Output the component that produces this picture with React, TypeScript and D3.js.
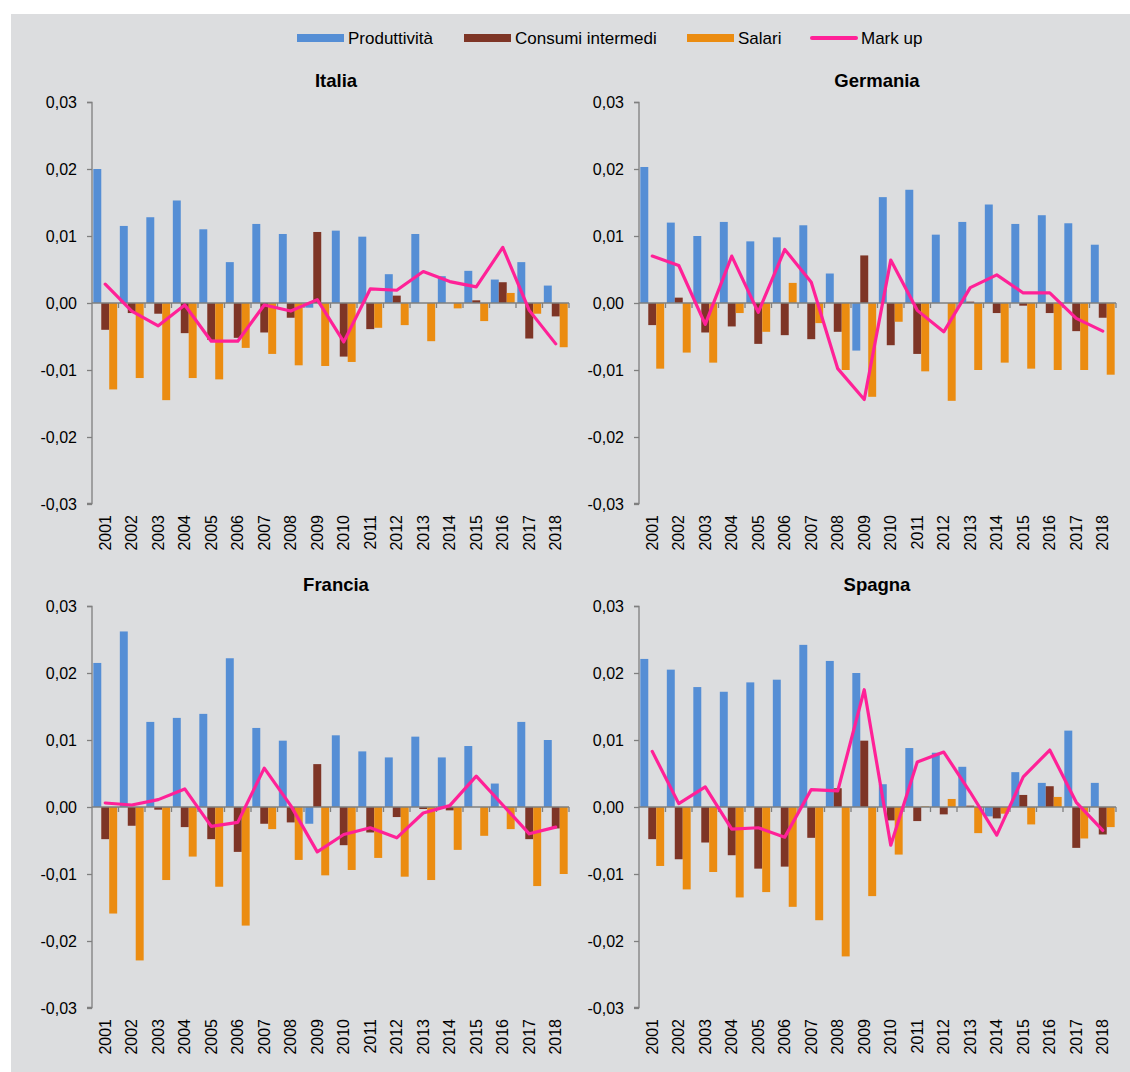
import { useEffect, useRef } from "react";
import * as d3 from "d3";

const years = [
  "2001", "2002", "2003", "2004", "2005", "2006", "2007", "2008", "2009",
  "2010", "2011", "2012", "2013", "2014", "2015", "2016", "2017", "2018",
];
const seriesNames = ["Produttività", "Consumi intermedi", "Salari", "Mark up"];
const seriesColors = ["#558ED5", "#7E3526", "#EB8C11", "#FF2197"];
const yTicks = [-0.03, -0.02, -0.01, 0, 0.01, 0.02, 0.03];

// Italia
const itaProd = [0.0200, 0.0115, 0.0128, 0.0153, 0.0110, 0.0061, 0.0118, 0.0103, -0.0007, 0.0108, 0.0099, 0.0043, 0.0103, 0.0040, 0.0048, 0.0035, 0.0061, 0.0026];
const itaCons = [-0.0040, -0.0015, -0.0016, -0.0045, -0.0055, -0.0052, -0.0044, -0.0022, 0.0106, -0.0080, -0.0039, 0.0011, 0.0000, 0.0000, 0.0004, 0.0031, -0.0053, -0.0020];
const itaSal = [-0.0129, -0.0112, -0.0145, -0.0112, -0.0114, -0.0067, -0.0076, -0.0093, -0.0094, -0.0088, -0.0037, -0.0033, -0.0057, -0.0008, -0.0027, 0.0015, -0.0016, -0.0066];
const itaMark = [0.0028, -0.0012, -0.0034, -0.0003, -0.0057, -0.0057, -0.0003, -0.0012, 0.0005, -0.0058, 0.0021, 0.0019, 0.0047, 0.0032, 0.0024, 0.0083, -0.0011, -0.0061];

// Germania
const gerProd = [0.0203, 0.0120, 0.0100, 0.0121, 0.0092, 0.0098, 0.0116, 0.0044, -0.0071, 0.0158, 0.0169, 0.0102, 0.0121, 0.0147, 0.0118, 0.0131, 0.0119, 0.0087];
const gerCons = [-0.0033, 0.0008, -0.0044, -0.0035, -0.0061, -0.0048, -0.0054, -0.0043, 0.0071, -0.0063, -0.0076, 0.0000, 0.0002, -0.0015, -0.0004, -0.0015, -0.0042, -0.0022];
const gerSal = [-0.0098, -0.0074, -0.0089, -0.0015, -0.0043, 0.0030, -0.0030, -0.0100, -0.0140, -0.0028, -0.0102, -0.0146, -0.0100, -0.0089, -0.0098, -0.0100, -0.0100, -0.0107];
const gerMark = [0.0070, 0.0056, -0.0032, 0.0070, -0.0014, 0.0080, 0.0031, -0.0098, -0.0144, 0.0064, -0.0011, -0.0043, 0.0023, 0.0042, 0.0015, 0.0015, -0.0023, -0.0042];

// Francia
const fraProd = [0.0215, 0.0262, 0.0127, 0.0133, 0.0139, 0.0222, 0.0118, 0.0099, -0.0025, 0.0107, 0.0083, 0.0074, 0.0105, 0.0074, 0.0091, 0.0035, 0.0127, 0.0100];
const fraCons = [-0.0048, -0.0028, -0.0004, -0.0030, -0.0048, -0.0067, -0.0025, -0.0023, 0.0064, -0.0057, -0.0038, -0.0015, -0.0003, -0.0005, 0.0000, 0.0000, -0.0048, -0.0032];
const fraSal = [-0.0159, -0.0229, -0.0109, -0.0074, -0.0119, -0.0177, -0.0033, -0.0079, -0.0102, -0.0094, -0.0076, -0.0104, -0.0109, -0.0064, -0.0043, -0.0033, -0.0118, -0.0100];
const fraMark = [0.0006, 0.0003, 0.0011, 0.0027, -0.0029, -0.0023, 0.0058, 0.0002, -0.0067, -0.0041, -0.0031, -0.0046, -0.0009, 0.0002, 0.0046, 0.0003, -0.0040, -0.0030];

// Spagna
const spaProd = [0.0221, 0.0205, 0.0179, 0.0172, 0.0186, 0.0190, 0.0242, 0.0218, 0.0200, 0.0034, 0.0088, 0.0081, 0.0060, -0.0014, 0.0052, 0.0036, 0.0114, 0.0036];
const spaCons = [-0.0048, -0.0078, -0.0053, -0.0072, -0.0092, -0.0089, -0.0046, 0.0028, 0.0099, -0.0020, -0.0021, -0.0011, 0.0002, -0.0017, 0.0018, 0.0031, -0.0061, -0.0041];
const spaSal = [-0.0088, -0.0123, -0.0097, -0.0135, -0.0127, -0.0149, -0.0169, -0.0223, -0.0133, -0.0071, 0.0001, 0.0012, -0.0039, -0.0010, -0.0026, 0.0015, -0.0047, -0.0030];
const spaMark = [0.0083, 0.0005, 0.0030, -0.0033, -0.0031, -0.0045, 0.0026, 0.0024, 0.0175, -0.0057, 0.0067, 0.0082, 0.0022, -0.0042, 0.0045, 0.0085, 0.0007, -0.0035];

const FONT = "'Liberation Sans', Arial, sans-serif";
const AXIS = "#7F7F7F";

const App = () => {
  const ref = useRef(null);

  useEffect(() => {
    d3.select(ref.current).selectAll("*").remove();
    const W = 1130;
    const H = 1072;

    const svg = d3
      .select(ref.current)
      .append("svg")
      .attr("width", W)
      .attr("height", H)
      .style("display", "block")
      .style("font-family", FONT);

    svg
      .append("rect")
      .attr("x", 11)
      .attr("y", 14)
      .attr("width", W - 11)
      .attr("height", H - 14)
      .attr("fill", "#DCDDDF");

    // legend
    const legendX = [297, 464, 687, 810];
    seriesNames.forEach((name, i) => {
      const g = svg.append("g").attr("transform", `translate(${legendX[i]}, 38)`);
      if (i < 3) {
        g.append("rect")
          .attr("x", 0)
          .attr("y", -4)
          .attr("width", 47)
          .attr("height", 8)
          .attr("fill", seriesColors[i]);
      } else {
        g.append("line")
          .attr("x1", 2)
          .attr("x2", 46)
          .attr("stroke", seriesColors[i])
          .attr("stroke-width", 4)
          .attr("stroke-linecap", "round");
      }
      g.append("text")
        .attr("x", 51)
        .attr("dy", "0.35em")
        .attr("font-size", "17px")
        .attr("fill", "#000")
        .text(name);
    });

    const panels = [
      { title: "Italia", x: 92, y: 102, tx: 336, data: [itaProd, itaCons, itaSal, itaMark] },
      { title: "Germania", x: 639, y: 102, tx: 877, data: [gerProd, gerCons, gerSal, gerMark] },
      { title: "Francia", x: 92, y: 606, tx: 336, data: [fraProd, fraCons, fraSal, fraMark] },
      { title: "Spagna", x: 639, y: 606, tx: 877, data: [spaProd, spaCons, spaSal, spaMark] },
    ];
    const pw = 477;
    const ph = 402;

    panels.forEach((p) => {
      const g = svg.append("g").attr("transform", `translate(${p.x}, ${p.y})`);

      const x0 = d3.scaleBand().domain(years).range([0, pw]).paddingInner(0.1).paddingOuter(0.05);
      const x1 = d3.scaleBand().domain(["0", "1", "2"]).range([0, x0.bandwidth()]);
      const y = d3.scaleLinear().domain([-0.03, 0.03]).range([ph, 0]);

      // title
      svg
        .append("text")
        .attr("x", p.tx)
        .attr("y", p.y - 15)
        .attr("text-anchor", "middle")
        .attr("font-size", "18.5px")
        .attr("font-weight", "bold")
        .text(p.title);

      // bars
      [0, 1, 2].forEach((s) => {
        g.append("g")
          .selectAll("rect")
          .data(p.data[s])
          .join("rect")
          .attr("x", (_, i) => (x0(years[i]) ?? 0) + (x1(String(s)) ?? 0))
          .attr("width", x1.bandwidth())
          .attr("y", (d) => Math.min(y(d), y(0)))
          .attr("height", (d) => Math.abs(y(d) - y(0)))
          .attr("fill", seriesColors[s]);
      });

      // y axis
      const yAxis = d3
        .axisLeft(y)
        .tickValues(yTicks)
        .tickSize(5)
        .tickPadding(10)
        .tickFormat((d) => d3.format(".2f")(d as number).replace(".", ",").replace("−", "-"));
      const ya = g.append("g").call(yAxis);
      ya.select(".domain").attr("stroke", AXIS).attr("stroke-width", 1.3).attr("d", `M-5,0.5H0V${ph - 0.5}H-5`);
      ya.selectAll(".tick line").attr("stroke", AXIS).attr("stroke-width", 1.3);
      ya.selectAll(".tick text").attr("font-size", "16px").attr("font-family", FONT).attr("fill", "#000");

      // zero line with category ticks
      g.append("line")
        .attr("x1", 0)
        .attr("x2", pw)
        .attr("y1", y(0))
        .attr("y2", y(0))
        .attr("stroke", AXIS)
        .attr("stroke-width", 1.5);
      const step = x0.step();
      d3.range(1, years.length + 1).forEach((i) => {
        const tx = Math.min(i * step, pw);
        g.append("line")
          .attr("x1", tx)
          .attr("x2", tx)
          .attr("y1", y(0))
          .attr("y2", y(0) + 5)
          .attr("stroke", AXIS)
          .attr("stroke-width", 1.3);
      });

      // year labels
      g.append("g")
        .selectAll("text")
        .data(years)
        .join("text")
        .attr("transform", (d) => `translate(${(x0(d) ?? 0) + x0.bandwidth() / 2}, ${ph + 11}) rotate(-90)`)
        .attr("text-anchor", "end")
        .attr("dy", "0.35em")
        .attr("font-size", "16px")
        .attr("fill", "#000")
        .text((d) => d);

      // mark up line
      const line = d3
        .line<number>()
        .x((_, i) => (x0(years[i]) ?? 0) + x0.bandwidth() / 2)
        .y((d) => y(d));
      g.append("path")
        .datum(p.data[3])
        .attr("fill", "none")
        .attr("stroke", seriesColors[3])
        .attr("stroke-width", 3.2)
        .attr("stroke-linejoin", "round")
        .attr("stroke-linecap", "round")
        .attr("d", line);
    });

    return () => {
      d3.select(ref.current).selectAll("*").remove();
    };
  }, []);

  return (
    <div
      ref={ref}
      style={{ position: "absolute", left: 0, top: 0, width: 1130, height: 1072 }}
    ></div>
  );
};

export default App;
